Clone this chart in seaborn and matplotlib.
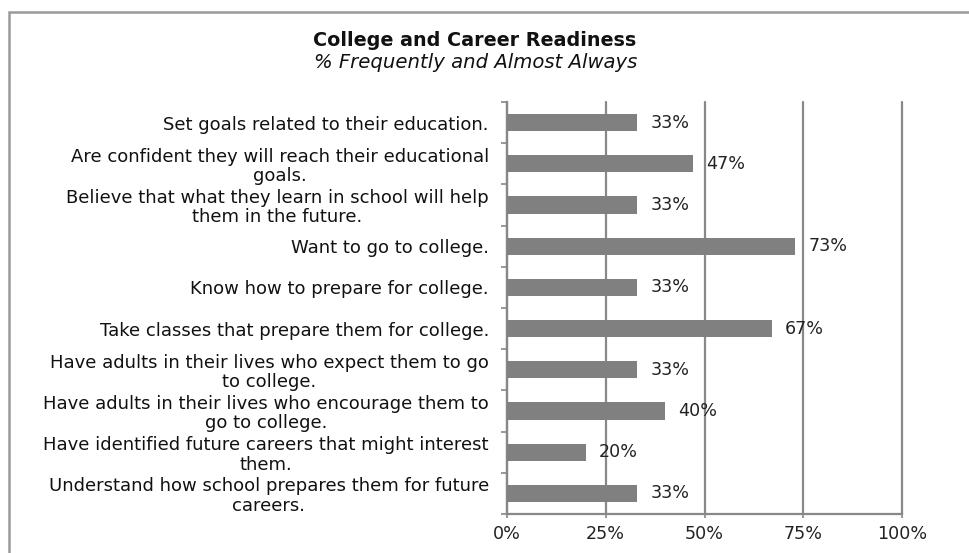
import matplotlib
matplotlib.use("Agg")
import matplotlib.pyplot as plt
from matplotlib.patches import Rectangle
from matplotlib.ticker import FixedLocator
import numpy as np
import pandas as pd
import seaborn as sns

items = [
    "Set goals related to their education.",
    "Are confident they will reach their educational\ngoals.",
    "Believe that what they learn in school will help\nthem in the future.",
    "Want to go to college.",
    "Know how to prepare for college.",
    "Take classes that prepare them for college.",
    "Have adults in their lives who expect them to go\nto college.",
    "Have adults in their lives who encourage them to\ngo to college.",
    "Have identified future careers that might interest\nthem.",
    "Understand how school prepares them for future\ncareers.",
]
percent = [33, 47, 33, 73, 33, 67, 33, 40, 20, 33]
x_ticks = [0, 25, 50, 75, 100]
x_tick_labels = ["0%", "25%", "50%", "75%", "100%"]

sns.set_theme(style="white")
plt.rcParams["font.family"] = ["DejaVu Sans"]

df = pd.DataFrame({"item": items, "pct": percent})

fig = plt.figure(figsize=(9.69, 5.53), dpi=100)
ax = fig.add_axes([0.5232, 0.0705, 0.4077, 0.7451])

sns.barplot(data=df, y="item", x="pct", orient="h", color="#808080",
            saturation=1, width=0.42, linewidth=0, ax=ax, zorder=3)

grey = "#888888"
ax.set_xlim(0, 100)
ax.set_ylim(len(items) - 0.5, -0.5)
ax.set_xticks(x_ticks)
ax.set_xticklabels(x_tick_labels)
ax.grid(axis="x", color=grey, lw=1.6, zorder=0)
ax.grid(axis="y", visible=False)
for gl in ax.get_xgridlines():
    gl.set_clip_on(False)
ax.set_xlabel("")
ax.set_ylabel("")

for side in ("top", "right"):
    ax.spines[side].set_visible(False)
for side in ("left", "bottom"):
    ax.spines[side].set_color(grey)
    ax.spines[side].set_linewidth(1.6)

ax.tick_params(axis="x", length=3, width=1.2, color=grey, pad=5,
               labelsize=12.6, labelcolor="#222222", bottom=True)
ax.tick_params(axis="y", which="major", length=0, pad=13,
               labelsize=13, labelcolor="#111111")
ax.yaxis.set_minor_locator(FixedLocator(np.arange(-0.5, len(items), 1.0)))
ax.tick_params(axis="y", which="minor", length=4, width=1.2, color=grey, left=True)
for lbl in ax.get_yticklabels():
    lbl.set_multialignment("center")
    lbl.set_linespacing(1.1)

for i, v in enumerate(percent):
    ax.text(v + 3.3, i, f"{v}%", va="center", ha="left", fontsize=12.6,
            color="#222222", zorder=4)

fig.text(475 / 969, 1 - 41 / 553, "College and Career Readiness",
         ha="center", va="center", fontsize=13.8, fontweight="bold", color="#111111")
fig.text(476 / 969, 1 - 62 / 553, "% Frequently and Almost Always",
         ha="center", va="center", fontsize=14.1, fontstyle="italic", color="#111111")

fig.add_artist(Rectangle((9 / 969, -0.1), 1.2, 1.1 - 12 / 553,
                         transform=fig.transFigure, fill=False,
                         edgecolor="#9a9a9a", lw=1.8))

fig.savefig("out.png", dpi=100, facecolor="white")
